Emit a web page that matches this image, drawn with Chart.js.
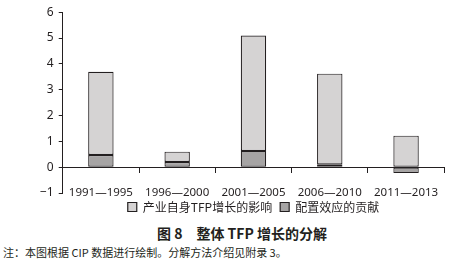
<!DOCTYPE html>
<html>
<head>
<meta charset="utf-8">
<script src="https://cdn.jsdelivr.net/npm/chart.js@4.4.1/dist/chart.umd.min.js"></script>
<style>
  html, body { margin: 0; padding: 0; background: #fff; }
  .wrap { position: relative; width: 453px; height: 260px; }
  .chart-box { position: absolute; left: 0; top: 0; width: 453px; height: 223px; }
  .caption { position: absolute; left: 0; width: 484px; top: 223px; text-align: center;
    font: bold 14px "Noto Sans CJK SC", sans-serif; color: #231f20; white-space: pre; }
  .note { position: absolute; left: 3px; top: 244px;
    font: 11px "Noto Sans CJK SC", sans-serif; color: #231f20; }
</style>
</head>
<body>
<div class="wrap">
  <div class="chart-box"><canvas id="tfpChart"></canvas></div>
  <div class="caption">图 8　整体 TFP 增长的分解</div>
  <div class="note">注：本图根据 CIP 数据进行绘制。分解方法介绍见附录 3。</div>
</div>
<script>
// periods on the x axis
const periods = ["1991—1995", "1996—2000", "2001—2005", "2006—2010", "2011—2013"];
// allocation effect (dark, bottom of the stack)
const allocationEffect = [0.47, 0.20, 0.63, 0.11, -0.23];
// industry's own TFP growth (light, stacked on top)
const industryTfp = [3.22, 0.40, 4.47, 3.51, 1.22];
const yTicks = [-1, 0, 1, 2, 3, 4, 5, 6];

const ink = "#231f20";
const fontFamily = "'Noto Sans', 'Noto Sans CJK SC', sans-serif";

const ctx = document.getElementById("tfpChart").getContext("2d");
new Chart(ctx, {
  type: "bar",
  data: {
    labels: periods,
    datasets: [
      {
        label: "配置效应的贡献",
        data: allocationEffect,
        backgroundColor: "#a6a4a4",
        borderColor: ink,
        borderWidth: 1.2,
        borderSkipped: false
      },
      {
        label: "产业自身TFP增长的影响",
        data: industryTfp,
        backgroundColor: "#d5d3d3",
        borderColor: ink,
        borderWidth: 1.2,
        borderSkipped: false
      }
    ]
  },
  options: {
    responsive: true,
    maintainAspectRatio: false,
    animation: false,
    devicePixelRatio: 1,
    datasets: { bar: { categoryPercentage: 1, barPercentage: 0.333 } },
    layout: { padding: { left: 35, right: 5, top: 0, bottom: 0 } },
    plugins: {
      tooltip: { enabled: false },
      legend: {
        position: "bottom",
        reverse: true,
        fullSize: false,
        labels: {
          boxWidth: 9,
          boxHeight: 9,
          padding: 8,
          color: ink,
          font: { family: "'Noto Sans CJK SC', sans-serif", size: 12 }
        }
      }
    },
    scales: {
      x: {
        stacked: true,
        position: { y: 0 },
        grid: { offset: true, drawOnChartArea: false, drawTicks: true, tickLength: 5, color: ink },
        border: { color: ink, width: 1 },
        ticks: { color: ink, padding: 14, font: { family: fontFamily, size: 11.5 }, maxRotation: 0 },
        afterFit: (scale) => { scale.height = 18; }
      },
      y: {
        stacked: true,
        min: -1,
        max: 6,
        afterBuildTicks: (scale) => { scale.ticks = yTicks.map(v => ({ value: v })); },
        grid: { drawOnChartArea: false, drawTicks: true, tickLength: 4, color: ink },
        border: { color: ink, width: 1 },
        ticks: {
          color: ink,
          padding: 5,
          font: { family: fontFamily, size: 12 },
          callback: (value) => String(value).replace("-", "−")
        }
      }
    }
  }
});
</script>
</body>
</html>
